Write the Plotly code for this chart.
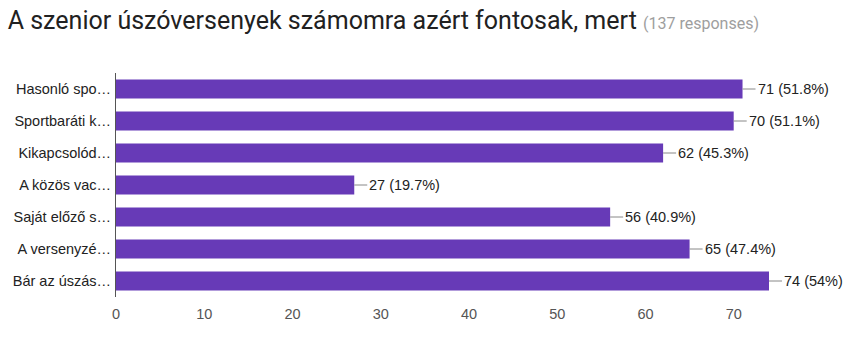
import plotly.graph_objects as go

categories = ["Hasonló spo…", "Sportbaráti k…", "Kikapcsolód…", "A közös vac…",
              "Saját előző s…", "A versenyzé…", "Bár az úszás…"]
counts = [71, 70, 62, 27, 56, 65, 74]
percents = ["51.8%", "51.1%", "45.3%", "19.7%", "40.9%", "47.4%", "54%"]
x_ticks = [0, 10, 20, 30, 40, 50, 60, 70]

fig = go.Figure()
fig.add_trace(go.Bar(
    y=categories, x=counts, orientation="h",
    marker=dict(color="#673ab7", line=dict(width=0)),
    width=0.6, hoverinfo="skip",
))

for c, n, p in zip(categories, counts, percents):
    fig.add_annotation(
        x=n, y=c, xref="x", yref="y",
        text=f"{n} ({p})", showarrow=True, ax=13, ay=0,
        arrowhead=0, arrowwidth=1, arrowcolor="#888", standoff=0,
        xanchor="left", font=dict(family="Arial", size=14.5, color="#222"),
    )

fig.update_layout(
    width=856, height=342,
    margin=dict(l=116, r=87, t=73, b=45),
    paper_bgcolor="white", plot_bgcolor="white",
    showlegend=False,
    title=dict(
        text="A szenior úszóversenyek számomra azért fontosak, mert "
             "<span style='font-size:16px;color:#9e9e9e'>(137 responses)</span>",
        x=0.009, xref="container", xanchor="left",
        y=0.94, yref="container", yanchor="middle",
        font=dict(family="Roboto", size=25, color="#212121"),
    ),
    xaxis=dict(
        range=[0, 74], tickvals=x_ticks, showgrid=False, zeroline=False,
        showline=False, ticks="", ticklabelstandoff=6,
        tickfont=dict(family="Arial", size=14.5, color="#555"),
    ),
    yaxis=dict(
        categoryorder="array", categoryarray=categories[::-1],
        showgrid=False, zeroline=False, showline=True, linecolor="#555", linewidth=1,
        ticks="", ticklabelstandoff=1,
        tickfont=dict(family="Arial", size=14.5, color="#222"),
    ),
)
fig.write_html("out.html")
